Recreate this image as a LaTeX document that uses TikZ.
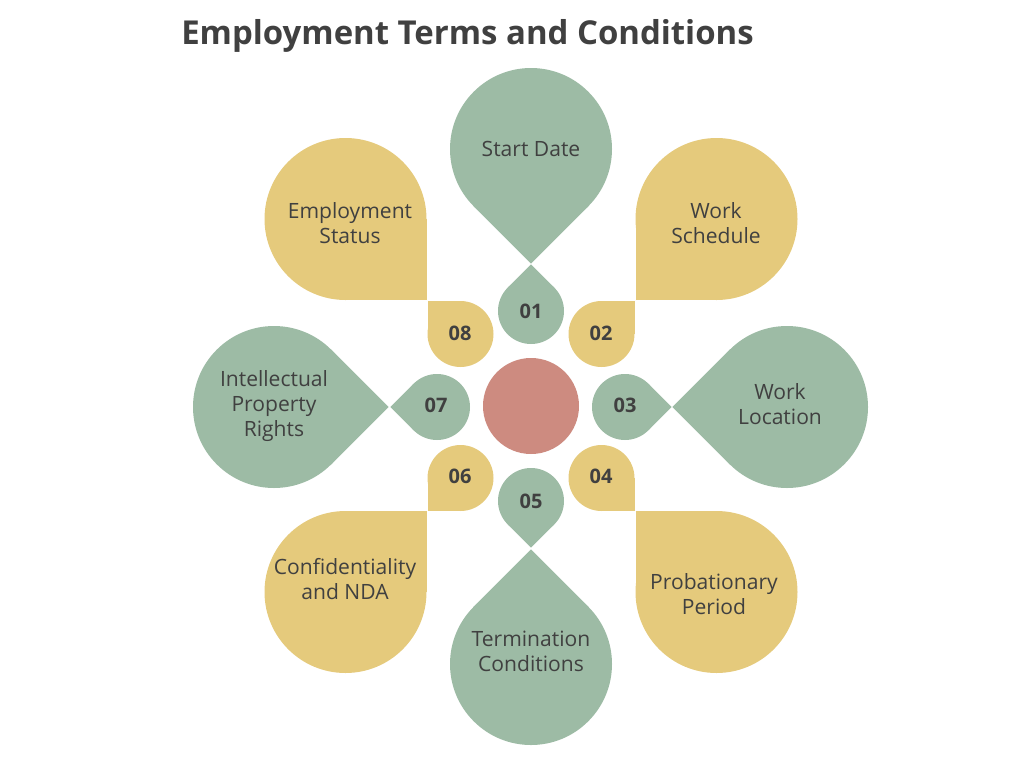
\documentclass[tikz,border=0pt]{standalone}
\usepackage{fontspec}
\setmainfont{Open Sans}
\definecolor{sage}{HTML}{9DBBA5}
\definecolor{mustard}{HTML}{E5CA7C}
\definecolor{clay}{HTML}{CD8B80}
\definecolor{ink}{HTML}{404040}
% petal: centre x, centre y, radius, turn of the sharp corner, colour
\newcommand{\petal}[5]{%
  \begin{scope}[shift={(#1,#2)},rotate=#4]
    \fill[#5] (0,0) circle (#3);
    \fill[#5] (0,0) rectangle (#3,#3);
  \end{scope}}
\tikzset{
  label/.style={text=ink,align=center,inner sep=0.75pt,font=\fontsize{15.8}{18.75}\selectfont},
  num/.style={text=ink,inner sep=0.75pt,font=\fontsize{15}{16}\selectfont\bfseries}
}
\begin{document}
\begin{tikzpicture}[x=0.75pt,y=0.75pt,yscale=-1,xscale=1]
        \useasboundingbox (0,0) rectangle (1024,768);
        %Shape: Big petals
        \petal{531}{149}{81}{45}{sage}
        \petal{716.5}{219}{81}{90}{mustard}
        \petal{787}{407}{81}{135}{sage}
        \petal{716.5}{592}{81}{180}{mustard}
        \petal{531}{664}{81}{225}{sage}
        \petal{345.5}{592}{81}{270}{mustard}
        \petal{274}{407}{81}{315}{sage}
        \petal{345.5}{219}{81}{0}{mustard}
        %Shape: Small petals
        \petal{531}{311}{33}{225}{sage}
        \petal{601.5}{334}{33}{270}{mustard}
        \petal{625}{407}{33}{315}{sage}
        \petal{601.5}{478}{33}{0}{mustard}
        \petal{531}{501}{33}{45}{sage}
        \petal{460.5}{478}{33}{90}{mustard}
        \petal{437}{407}{33}{135}{sage}
        \petal{460.5}{334}{33}{180}{mustard}
        %Shape: Circle
        \fill[clay] (531,406) circle (48);
        % Text Node
        \draw (181,36) node (title) [anchor=west,text=ink,inner sep=0pt,font=\fontsize{24.7}{28}\selectfont\bfseries] {Employment Terms and Conditions};
        % Text Node
        \draw (531,149) node (start) [label] {Start Date};
        \draw (716,223) node (schedule) [label] {Work\\Schedule};
        \draw (780,404) node (location) [label] {Work\\Location};
        \draw (714,594) node (probation) [label] {Probationary\\Period};
        \draw (531,651) node (termination) [label] {Termination\\Conditions};
        \draw (345,579) node (nda) [label] {Confidentiality\\and NDA};
        \draw (274,406) node (ip) [label] {Intellectual\\Property\\Rights};
        \draw (350,223) node (status) [label] {Employment\\Status};
        % Number Nodes
        \draw (531,311) node (n1) [num] {01};
        \draw (601,333) node (n2) [num] {02};
        \draw (625,405) node (n3) [num] {03};
        \draw (601,476) node (n4) [num] {04};
        \draw (531,501) node (n5) [num] {05};
        \draw (460,476) node (n6) [num] {06};
        \draw (436,405) node (n7) [num] {07};
        \draw (460,333) node (n8) [num] {08};
    \end{tikzpicture}
\end{document}
